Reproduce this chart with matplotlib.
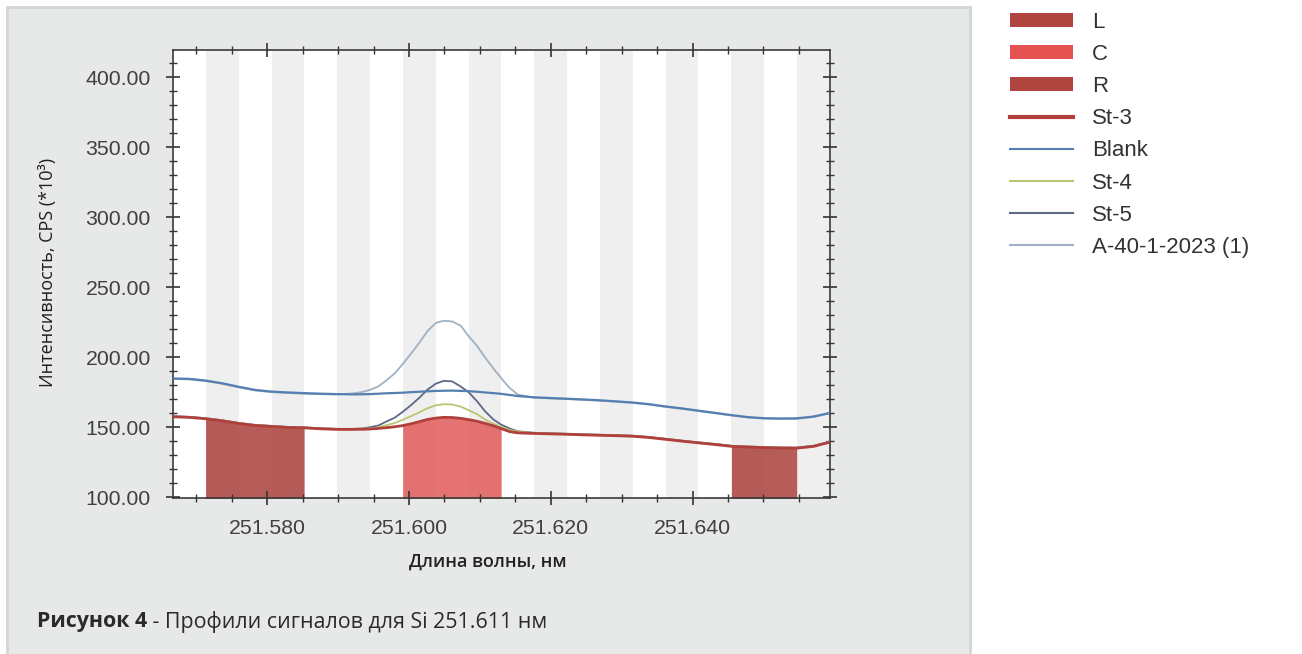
#signal profiles for Si 251.611 nm

import matplotlib.pyplot as plt
from matplotlib.patches import Rectangle, Patch
from matplotlib.lines import Line2D
from matplotlib.ticker import MultipleLocator, FormatStrFormatter

#----------------------------------------------------------------------------------
#data: wavelength (nm) and intensity (CPS * 10^3)

wavelength = [251.5667, 251.5690, 251.5713, 251.5737, 251.5760, 251.5783, 251.5806,
              251.5829, 251.5852, 251.5876, 251.5899,
              251.5922, 251.5934, 251.5945, 251.5957, 251.5968, 251.5980, 251.5991,
              251.6003, 251.6015, 251.6026, 251.6038, 251.6049, 251.6061, 251.6073,
              251.6084, 251.6096, 251.6107, 251.6119, 251.6130, 251.6142, 251.6154,
              251.6177, 251.6200, 251.6223, 251.6246, 251.6269, 251.6293, 251.6316,
              251.6339, 251.6362, 251.6385, 251.6408, 251.6432, 251.6455, 251.6478,
              251.6501, 251.6524, 251.6547, 251.6571, 251.6594]

st3 = [157.4, 157.0, 156.0, 154.5, 152.6, 151.2, 150.5, 149.8, 149.5, 148.8, 148.4,
       148.4, 148.5, 148.7, 149.1, 149.6, 150.3, 151.1, 152.4, 154.0, 155.5, 156.5,
       157.0, 156.9, 156.3, 155.4, 154.2, 152.8, 151.0, 149.0, 146.8, 145.9,
       145.5, 145.2, 144.9, 144.5, 144.2, 143.9, 143.5, 142.6, 141.3, 140.0, 138.8,
       137.6, 136.3, 135.8, 135.4, 135.1, 135.0, 136.3, 139.3]

blank = [184.8, 184.5, 183.3, 181.3, 178.8, 176.6, 175.4, 174.8, 174.3, 173.9, 173.6,
         173.4, 173.5, 173.6, 173.9, 174.2, 174.4, 174.6, 175.0, 175.3, 175.6, 175.9,
         176.0, 176.1, 175.9, 175.7, 175.3, 174.8, 174.3, 173.8, 173.0, 172.2,
         171.3, 170.8, 170.3, 169.8, 169.2, 168.4, 167.6, 166.4, 164.8, 163.4, 161.8,
         160.2, 158.6, 157.2, 156.4, 156.2, 156.3, 157.6, 160.2]

st4 = [157.6, 157.2, 156.2, 154.7, 152.8, 151.4, 150.7, 150.0, 149.7, 149.0, 148.6,
       148.7, 149.0, 149.2, 149.9, 151.4, 153.0, 155.2, 157.9, 160.7, 163.5, 165.6,
       166.4, 166.2, 164.6, 162.2, 159.3, 155.5, 152.5, 150.0, 148.0, 146.8,
       145.8, 145.4, 145.1, 144.7, 144.4, 144.1, 143.7, 142.8, 141.5, 140.2, 139.0,
       137.8, 136.5, 136.0, 135.6, 135.3, 135.2, 136.5, 139.5]

st5 = [157.8, 157.4, 156.4, 154.9, 153.0, 151.6, 150.9, 150.2, 149.9, 149.2, 148.8,
       148.8, 149.1, 150.0, 151.2, 154.0, 156.8, 160.9, 165.8, 171.2, 176.8, 181.1,
       183.1, 182.7, 179.0, 175.0, 168.5, 161.5, 155.5, 151.8, 149.0, 147.0,
       146.0, 145.6, 145.3, 144.9, 144.6, 144.3, 143.9, 143.0, 141.7, 140.4, 139.2,
       138.0, 136.7, 136.2, 135.8, 135.5, 135.4, 136.7, 139.7]

a40 = [184.4, 184.1, 182.9, 180.9, 178.4, 176.2, 175.0, 174.4, 173.9, 173.5, 173.4,
       174.2, 175.1, 176.6, 179.2, 183.4, 188.5, 195.0, 202.6, 210.6, 218.6, 224.5,
       226.0, 225.5, 222.5, 215.0, 208.0, 200.0, 192.0, 185.0, 178.0, 173.2,
       171.0, 170.5, 170.0, 169.5, 168.9, 168.1, 167.3, 166.1, 164.5, 163.1, 161.5,
       159.9, 158.3, 156.9, 156.1, 155.9, 156.0, 157.3, 159.9]

#detector pixel edges (background stripes)
pixel_edges = [251.5667, 251.5713, 251.5760, 251.5806, 251.5852, 251.5899, 251.5945,
               251.5991, 251.6038, 251.6084, 251.6130, 251.6177, 251.6223, 251.6269,
               251.6316, 251.6362, 251.6408, 251.6455, 251.6501, 251.6547, 251.6594]

#background windows (left, center, right)
window_names = ["L", "C", "R"]
window_bounds = [(251.5713, 251.5852), (251.5991, 251.6130), (251.6455, 251.6547)]

#----------------------------------------------------------------------------------

W, H = 1302, 654

def fx(px):
    return px / W

def fy(py):
    return 1 - py / H

fig = plt.figure(figsize=(W / 100, H / 100), dpi=100)
fig.patch.set_facecolor("white")

#grey card behind the chart and caption
fig.add_artist(Rectangle((fx(7), -0.05), fx(970) - fx(7), fy(7) + 0.05,
                         transform=fig.transFigure, facecolor="#e7e9e9",
                         edgecolor="#d3d6d6", linewidth=2, zorder=-2))

ax = fig.add_axes([fx(173), fy(498), fx(830) - fx(173), fy(50) - fy(498)])
ax.set_facecolor("white")

#alternating pixel stripes
for j in range(len(pixel_edges) - 1):
    if j % 2 == 1:
        ax.axvspan(pixel_edges[j], pixel_edges[j + 1], color = "#efefef", lw = 0, zorder = 0)

window_colors = ["#ad4642", "#e2605e", "#ad4642"]
for name, (lo, hi), col in zip(window_names, window_bounds, window_colors):
    mask = [lo - 1e-6 <= w <= hi + 1e-6 for w in wavelength]
    ax.fill_between(wavelength, 0, st3, where = mask, color = col, alpha = 0.88,
                    lw = 0, zorder = 1)

ax.plot(wavelength, a40, color = "#9fb1c2", lw = 1.3, zorder = 2)
ax.plot(wavelength, st5, color = "#5d6886", lw = 1.3, zorder = 3)
ax.plot(wavelength, st4, color = "#bcc472", lw = 1.3, zorder = 3)
ax.plot(wavelength, blank, color = "#557fb0", lw = 1.6, zorder = 4)
ax.plot(wavelength, st3, color = "#b0403c", lw = 2.0, zorder = 5)

ax.set_xlim(251.5667, 251.6594)
ax.set_ylim(99.4, 419.4)
ax.xaxis.set_major_locator(MultipleLocator(0.02))
ax.xaxis.set_minor_locator(MultipleLocator(0.005))
ax.yaxis.set_major_locator(MultipleLocator(50))
ax.yaxis.set_minor_locator(MultipleLocator(10))
ax.xaxis.set_major_formatter(FormatStrFormatter("%.3f"))
ax.yaxis.set_major_formatter(FormatStrFormatter("%.2f"))

ax.tick_params(which = "both", direction = "inout", top = True, right = True,
               color = "#333333", labelcolor = "#404040")
ax.tick_params(which = "major", length = 10, width = 1.2, labelsize = 15.3)
ax.tick_params(axis = "y", which = "major", pad = 11)
ax.tick_params(axis = "x", which = "major", pad = 10)
ax.tick_params(which = "minor", length = 6, width = 1)
for lab in ax.get_xticklabels() + ax.get_yticklabels():
    lab.set_family("Liberation Sans")
for sp in ax.spines.values():
    sp.set_color("#3a3a3a")
    sp.set_linewidth(1.2)

#----------------------------------------------------------------------------------

fig.text(fx(48), fy(272), "Интенсивность, CPS (*10³)", rotation = 90,
         ha = "center", va = "center", fontsize = 13, family = "Open Sans",
         color = "#1e1e1e")
fig.text(fx(488), fy(562), "Длина волны, нм", ha = "center", va = "center",
         fontsize = 13, family = "Open Sans", weight = "semibold", color = "#222222")

cap1 = fig.text(fx(37), fy(622), "Рисунок 4", ha = "left", va = "center",
                fontsize = 15.4, family = "Open Sans", weight = "bold", color = "#2a2a2a")
fig.canvas.draw()
bb = cap1.get_window_extent()
fig.text(bb.x1 / W, fy(622), " - Профили сигналов для Si 251.611 нм", ha = "left",
         va = "center", fontsize = 15.4, family = "Open Sans", color = "#2a2a2a")

#----------------------------------------------------------------------------------

handles = [Patch(facecolor = "#b0443f", edgecolor = "none"),
           Patch(facecolor = "#e45350", edgecolor = "none"),
           Patch(facecolor = "#b0443f", edgecolor = "none"),
           Line2D([], [], color = "#b0403c", lw = 3),
           Line2D([], [], color = "#557fb0", lw = 1.5),
           Line2D([], [], color = "#bcc472", lw = 1.5),
           Line2D([], [], color = "#5d6886", lw = 1.5),
           Line2D([], [], color = "#9fb1c2", lw = 1.5)]
labels = window_names + ["St-3", "Blank", "St-4", "St-5", "A-40-1-2023 (1)"]
fig.legend(handles, labels, loc = "upper left", bbox_to_anchor = (fx(1010), fy(12)),
           frameon = False, borderpad = 0, borderaxespad = 0, handlelength = 2.84,
           handleheight = 0.6, handletextpad = 0.85, labelspacing = 0.5,
           prop = {"family": "Liberation Sans", "size": 16}, labelcolor = "#333333")

fig.savefig("out.png", dpi = 100)
